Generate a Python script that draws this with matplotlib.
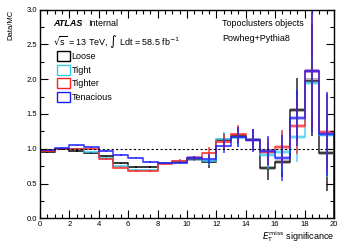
import numpy as np
import matplotlib
matplotlib.use('Agg')
import matplotlib.pyplot as plt
from matplotlib.ticker import MultipleLocator
from matplotlib.patches import Rectangle

plt.rcParams['font.family'] = ['Liberation Sans', 'DejaVu Sans']

edges = np.arange(0, 21, 1)

# ratio Data/MC per bin
loose     = [0.95, 0.99, 0.97, 0.94, 0.89, 0.79, 0.74, 0.74, 0.79, 0.81,
             0.85, 0.81, 1.13, 1.19, 1.13, 0.72, 0.81, 1.56, 1.98, 0.94]
tight     = [0.98, 1.00, 0.99, 0.95, 0.86, 0.75, 0.70, 0.70, 0.79, 0.82,
             0.86, 0.83, 1.14, 1.16, 1.14, 0.91, 0.96, 1.17, 1.94, 1.20]
tighter   = [0.97, 1.00, 1.00, 1.00, 0.85, 0.73, 0.68, 0.68, 0.78, 0.83,
             0.87, 0.94, 1.10, 1.21, 1.13, 0.96, 1.02, 1.33, 2.12, 1.24]
tenacious = [0.98, 1.01, 1.05, 1.02, 0.97, 0.91, 0.87, 0.81, 0.79, 0.80,
             0.87, 0.85, 1.04, 1.17, 1.12, 0.97, 0.87, 1.44, 2.12, 1.21]

# stat. errors
err_loose     = [0.01, 0.01, 0.01, 0.01, 0.01, 0.01, 0.01, 0.01, 0.01, 0.02,
                 0.03, 0.09, 0.10, 0.12, 0.15, 0.17, 0.22, 0.45, 0.80, 0.55]
err_tight     = [0.01, 0.01, 0.01, 0.01, 0.01, 0.01, 0.01, 0.01, 0.01, 0.02,
                 0.03, 0.07, 0.10, 0.13, 0.15, 0.20, 0.30, 0.36, 0.43, 0.60]
err_tighter   = [0.01, 0.01, 0.01, 0.01, 0.01, 0.01, 0.01, 0.01, 0.01, 0.02,
                 0.03, 0.08, 0.11, 0.13, 0.16, 0.20, 0.25, 0.40, 0.85, 0.55]
err_tenacious = [0.01, 0.01, 0.01, 0.01, 0.01, 0.01, 0.01, 0.01, 0.01, 0.02,
                 0.03, 0.07, 0.10, 0.14, 0.16, 0.21, 0.33, 0.40, 0.88, 0.60]

# MC stat band half-height
band = [0.015, 0.015, 0.015, 0.015, 0.015, 0.015, 0.015, 0.015, 0.015, 0.015,
        0.02, 0.02, 0.02, 0.02, 0.02, 0.03, 0.03, 0.03, 0.03, 0.03]

names = ['Loose', 'Tight', 'Tighter', 'Tenacious']
colors = ['black', '#33ccee', '#ff2020', '#1a1aff']
series = [loose, tight, tighter, tenacious]
errors = [err_loose, err_tight, err_tighter, err_tenacious]

fig = plt.figure(figsize=(3.39, 2.43), dpi=100)
ax = fig.add_axes([0.118, 0.1016, 0.867, 0.859])

centers = 0.5 * (edges[:-1] + edges[1:])
for vals, errs, col in zip(series, errors, colors):
    v = np.array(vals)
    b = np.array(band)
    ax.stairs(v + b, edges, baseline=v - b, fill=True, color=col, alpha=0.3, lw=0)
    ax.stairs(v, edges, color=col, lw=1.1, alpha=0.85)
    ax.errorbar(centers, v, yerr=errs, fmt='none', ecolor=col, elinewidth=1.1,
                capsize=0, alpha=0.85)

ax.axhline(1.0, color='black', ls=(0, (2, 2)), lw=0.8)

ax.set_xlim(0, 20)
ax.set_ylim(0, 3)
ax.xaxis.set_major_locator(MultipleLocator(2))
ax.xaxis.set_minor_locator(MultipleLocator(0.5))
ax.yaxis.set_major_locator(MultipleLocator(0.5))
ax.yaxis.set_minor_locator(MultipleLocator(0.25))
ax.tick_params(which='both', direction='in', top=True, right=True, labelsize=5.5, pad=2)
ax.tick_params(which='major', length=6, width=0.8)
ax.tick_params(which='minor', length=3, width=0.8)
ax.yaxis.set_major_formatter(matplotlib.ticker.FormatStrFormatter('%.1f'))
for s in ax.spines.values():
    s.set_linewidth(1.0)

ax.set_ylabel('Data/MC', fontsize=5.5, loc='top', labelpad=9)
ax.set_xlabel(r'$E_{\mathrm{T}}^{\mathrm{miss}}$ significance', fontsize=6.5, loc='right', labelpad=1)

ax.text(0.045, 0.955, 'ATLAS', transform=ax.transAxes, fontsize=6.5,
        fontweight='bold', fontstyle='italic', va='top')
ax.text(0.165, 0.955, 'Internal', transform=ax.transAxes, fontsize=6.5, va='top')
ax.text(0.045, 0.885, r'$\sqrt{\mathrm{s}}$ = 13 TeV, $\int$ Ldt = 58.5 fb$^{-1}$',
        transform=ax.transAxes, fontsize=6.5, va='top')
ax.text(0.62, 0.955, 'Topoclusters objects', transform=ax.transAxes, fontsize=6.5, va='top')
ax.text(0.62, 0.885, 'Powheg+Pythia8', transform=ax.transAxes, fontsize=6.5, va='top')

for i, (name, col) in enumerate(zip(names, colors)):
    y = 0.775 - i * 0.065
    ax.add_patch(Rectangle((0.058, y - 0.022), 0.043, 0.047, transform=ax.transAxes,
                           fill=False, edgecolor=col, lw=1.0))
    ax.text(0.108, y, name, transform=ax.transAxes, fontsize=6.5, va='center')

fig.savefig('out.png', dpi=100)
